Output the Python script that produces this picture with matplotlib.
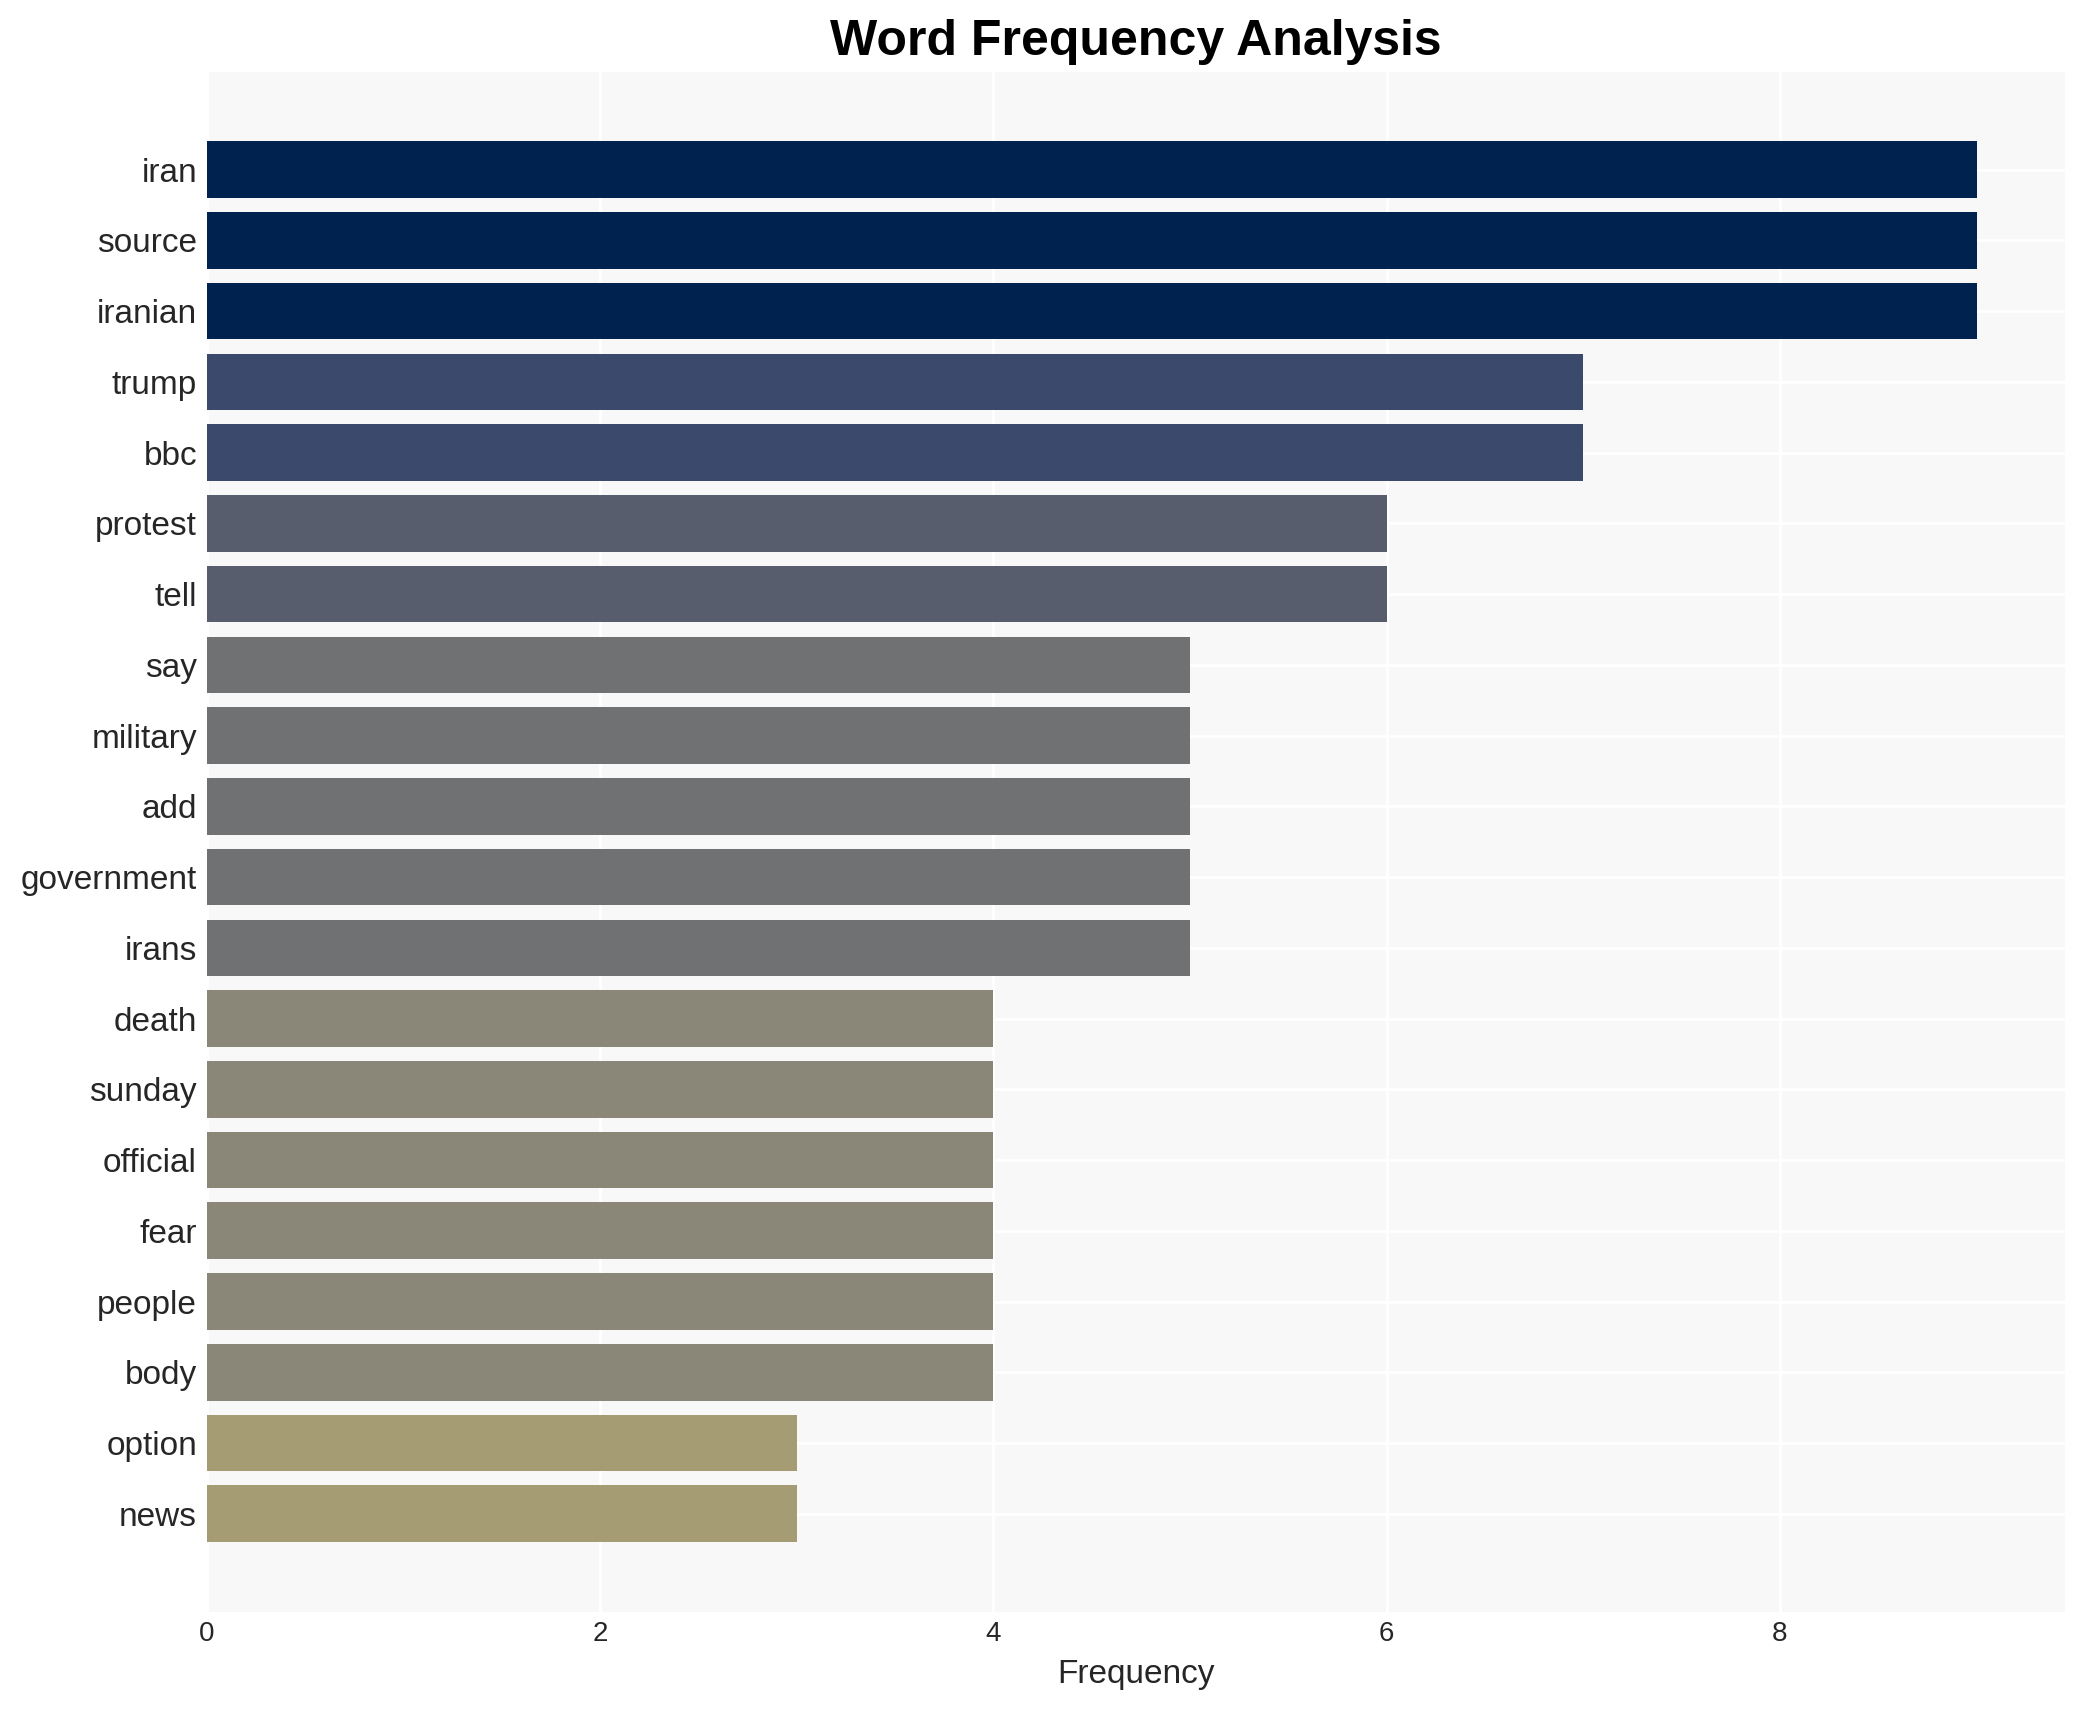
import matplotlib
matplotlib.use("Agg")
import matplotlib.pyplot as plt
import numpy as np

words = ["iran", "source", "iranian", "trump", "bbc", "protest", "tell", "say",
         "military", "add", "government", "irans", "death", "sunday", "official",
         "fear", "people", "body", "option", "news"]
counts = [9, 9, 9, 7, 7, 6, 6, 5, 5, 5, 5, 5, 4, 4, 4, 4, 4, 4, 3, 3]

plt.rcParams['font.family'] = ['Liberation Sans', 'DejaVu Sans']

fig = plt.figure(figsize=(10.425, 8.55), dpi=200)
ax = fig.add_axes([206.7 / 2085, 1 - 1611.7 / 1710, (2065 - 206.7) / 2085, (1611.7 - 71.7) / 1710])

# colour follows the count, darkest for the most frequent word
cmap = plt.get_cmap("cividis_r")
vals = np.array(counts)
colors = [cmap(v / vals.max()) for v in vals]
ypos = np.arange(len(words))
ax.barh(ypos, vals, height=0.8, color=colors, zorder=2)

ax.set_facecolor("#f8f8f8")
ax.grid(True, color="white", linewidth=1.0, zorder=0)
ax.set_axisbelow(True)
for s in ax.spines.values():
    s.set_visible(False)

ax.set_yticks(ypos)
ax.set_yticklabels(words)
ax.set_xticks([0, 2, 4, 6, 8])
ax.set_xlim(0, 9.45)
ax.set_ylim(19 + 1.385, -1.385)
ax.tick_params(axis="both", length=0, colors="#262626")
ax.tick_params(axis="y", labelsize=12, pad=3.5)
ax.tick_params(axis="x", labelsize=10, pad=3.5)

ax.set_xlabel("Frequency", fontsize=12, color="#262626", labelpad=4)
ax.set_title("Word Frequency Analysis", fontsize=18, fontweight="bold", color="black")

fig.savefig("out.png", dpi=200)
